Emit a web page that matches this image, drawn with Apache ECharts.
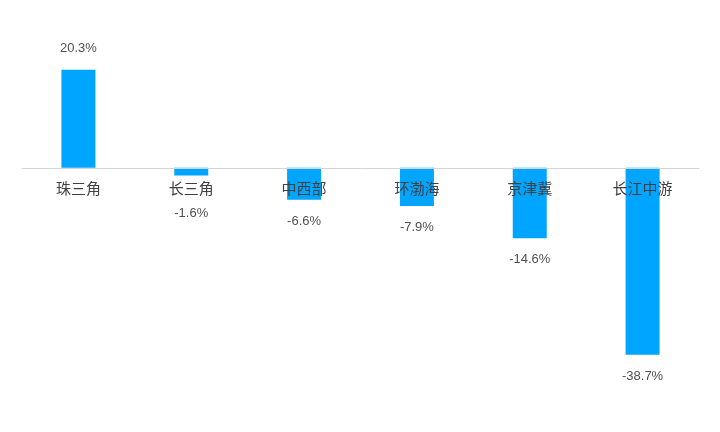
<!DOCTYPE html>
<html><head><meta charset="utf-8">
<script src="https://cdn.jsdelivr.net/npm/echarts@6/dist/echarts.min.js"></script>
<style>html,body{margin:0;padding:0;background:#fff}#c{width:720px;height:432px}</style>
</head><body><div id="c"></div>
<script>
const categories = ["珠三角","长三角","中西部","环渤海","京津冀","长江中游"];
const values = [20.3, -1.6, -6.6, -7.9, -14.6, -38.7];

const yMin = -40, yMax = 25;
const gridTop = 47, gridBottom = 71, H = 432;
const plotH = H - gridTop - gridBottom;
const zeroOffset = -plotH * (0 - yMin) / (yMax - yMin);

const chart = echarts.init(document.getElementById('c'));
const data = values.map((v, i) => {
  const item = { value: v, label: { position: v >= 0 ? 'top' : 'bottom' } };
  if (i === 1) item.label.distance = 31;
  return item;
});
chart.setOption({
  animation: false,
  grid: { left: 22, right: 21, top: gridTop, bottom: gridBottom },
  xAxis: {
    type: 'category', data: categories, position: 'bottom',
    offset: zeroOffset,
    axisLine: { onZero: false, lineStyle: { color: '#d4d4d4', width: 1 } },
    axisTick: { show: false },
    axisLabel: { color: '#404040', fontSize: 15, margin: 13, fontFamily: 'Noto Sans CJK SC' },
    z: 10
  },
  yAxis: {
    type: 'value', min: yMin, max: yMax,
    axisLine: { show: false }, axisTick: { show: false },
    axisLabel: { show: false }, splitLine: { show: false }
  },
  series: [{
    type: 'bar', data: data, barWidth: 34,
    itemStyle: { color: '#00A5FF' },
    label: {
      show: true, distance: 15, color: '#505050', fontSize: 13,
      fontFamily: 'Liberation Sans',
      formatter: p => p.value.toFixed(1) + '%'
    }
  }]
});
</script></body></html>
